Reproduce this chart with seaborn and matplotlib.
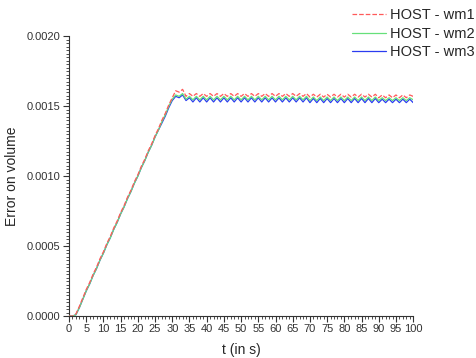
import numpy as np
import pandas as pd
import matplotlib
matplotlib.use("Agg")
import matplotlib.pyplot as plt
from matplotlib.ticker import MultipleLocator, FormatStrFormatter
import seaborn as sns

# Time samples (s)
t = list(range(0, 101))

# Volume error, in units of 1e-5
wm1 = [0, 0, 1.5, 7, 13, 19, 24, 30, 35, 41,
       46, 52, 57, 63, 68, 74, 79, 85, 90, 96,
       101, 107, 112, 118, 123, 129, 134, 140, 145, 151,
       156, 161, 160, 162, 157, 159, 157, 159, 157, 159,
       157, 159, 157, 159, 157, 159, 157, 159, 157, 159,
       157, 159, 157, 159, 157, 159, 157, 159, 157, 159,
       157, 159, 157, 159, 157, 159, 157, 159, 157, 159,
       156.5, 158.5, 156.5, 158.5, 156.5, 158.5, 156.5, 158.5, 156.5, 158.5,
       156.5, 158.5, 156.5, 158.5, 156.5, 158.5, 156.5, 158.5, 156.5, 158.5,
       156, 158, 156, 158, 156, 158, 156, 158, 156, 158,
       157]
wm2 = [0, 0, 1, 6, 12, 18, 23, 29, 34, 40,
       45, 51, 56, 62, 67, 73, 78, 84, 89, 95,
       100, 106, 111, 117, 122, 128, 133, 139, 144, 150,
       155, 158, 157, 159, 155, 157, 154.5, 157, 154.5, 157,
       154.5, 157, 154.5, 157, 154.5, 157, 154.5, 157, 154.5, 157,
       154.5, 157, 154.5, 157, 154.5, 157, 154.5, 157, 154.5, 157,
       154.5, 157, 154.5, 157, 154.5, 157, 154.5, 157, 154.5, 157,
       154, 156.5, 154, 156.5, 154, 156.5, 154, 156.5, 154, 156.5,
       154, 156.5, 154, 156.5, 154, 156.5, 154, 156.5, 154, 156.5,
       154, 156, 154, 156, 154, 156, 154, 156, 154, 156,
       154.5]
wm3 = [0, 0, 1, 6, 12, 18, 23, 29, 34, 40,
       45, 51, 56, 62, 67, 73, 78, 84, 89, 95,
       100, 106, 111, 117, 122, 128, 133, 138, 143, 149,
       154, 157, 156, 158, 154, 156, 153, 156, 153, 156,
       153, 156, 153, 156, 153, 156, 153, 156, 153, 156,
       153, 156, 153, 156, 153, 156, 153, 156, 153, 156,
       153, 156, 153, 156, 153, 156, 153, 156, 153, 156,
       152.5, 155.5, 152.5, 155.5, 152.5, 155.5, 152.5, 155.5, 152.5, 155.5,
       152.5, 155.5, 152.5, 155.5, 152.5, 155.5, 152.5, 155.5, 152.5, 155.5,
       152.5, 155, 152.5, 155, 152.5, 155, 152.5, 155, 152.5, 155,
       152.5]

labels = ["HOST - wm1", "HOST - wm2", "HOST - wm3"]
colors = ["#ff5a5a", "#66e07a", "#2b3cf0"]
styles = ["--", "-", "-"]
layers = [4, 3, 2]

sns.set_style("ticks")
plt.rcParams["font.family"] = ["Liberation Sans", "DejaVu Sans"]

fig = plt.figure(figsize=(4.76, 3.58), dpi=100)
ax = fig.add_axes([0.145, 0.117, 0.723, 0.782])

for series, lab, col, ls, z in zip([wm1, wm2, wm3], labels, colors, styles, layers):
    y = np.array(series) * 1e-5
    sns.lineplot(x=t, y=y, ax=ax, color=col, linestyle=ls, linewidth=0.9,
                 label=lab, zorder=z)

ax.set_xlim(0, 100)
ax.set_ylim(0, 0.0020)
ax.xaxis.set_major_locator(MultipleLocator(5))
ax.xaxis.set_minor_locator(MultipleLocator(1))
ax.yaxis.set_major_locator(MultipleLocator(0.0005))
ax.yaxis.set_minor_locator(MultipleLocator(0.000025))
ax.yaxis.set_major_formatter(FormatStrFormatter("%.4f"))
ax.tick_params(axis="both", which="major", direction="out", length=4, width=0.8,
               labelsize=8, pad=2, colors="#333333")
ax.tick_params(axis="both", which="minor", direction="out", length=2, width=0.6,
               colors="#333333")
for side in ["left", "bottom"]:
    ax.spines[side].set_color("#333333")
    ax.spines[side].set_linewidth(0.8)
sns.despine(ax=ax)

ax.set_xlabel("t (in s)", fontsize=10, labelpad=6)
ax.set_ylabel("Error on volume", fontsize=10, labelpad=6)

ax.legend(loc="upper right", bbox_to_anchor=(1.003, 0.985), bbox_transform=fig.transFigure,
          frameon=False, fontsize=10.5, handlelength=2.3, handletextpad=0.3,
          labelspacing=0.3, borderaxespad=0.0, borderpad=0.2)

fig.savefig("out.png", dpi=100)
